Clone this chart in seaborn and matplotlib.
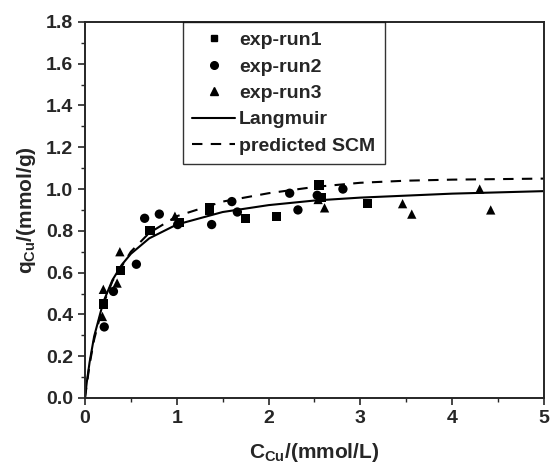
import numpy as np
import pandas as pd
import matplotlib
matplotlib.use("Agg")
import matplotlib.pyplot as plt
from matplotlib.ticker import MultipleLocator
from matplotlib.lines import Line2D
import seaborn as sns

# data
run1_c = [0.20, 0.39, 0.71, 1.03, 1.36, 1.36, 1.75, 2.09, 2.55, 2.57, 3.08]
run1_q = [0.45, 0.61, 0.80, 0.84, 0.91, 0.90, 0.86, 0.87, 1.02, 0.96, 0.93]

run2_c = [0.21, 0.31, 0.56, 0.65, 0.81, 1.01, 1.38, 1.60, 1.66, 2.23, 2.32, 2.53, 2.81]
run2_q = [0.34, 0.51, 0.64, 0.86, 0.88, 0.83, 0.83, 0.94, 0.89, 0.98, 0.90, 0.97, 1.00]

run3_c = [0.19, 0.20, 0.35, 0.38, 0.98, 2.54, 2.61, 3.46, 3.56, 4.30, 4.42]
run3_q = [0.39, 0.52, 0.55, 0.70, 0.87, 0.95, 0.91, 0.93, 0.88, 1.00, 0.90]

lang_c = [0, 0.02, 0.05, 0.1, 0.2, 0.3, 0.4, 0.5, 0.7, 1.0, 1.5, 2.0, 2.5, 3.0, 4.0, 5.0]
lang_q = [0, 0.076, 0.17, 0.295, 0.46, 0.565, 0.637, 0.69, 0.764, 0.83, 0.89, 0.923, 0.945, 0.959, 0.978, 0.99]

scm_c = [0, 0.05, 0.1, 0.2, 0.3, 0.5, 0.7, 1.0, 1.5, 2.0, 2.5, 3.0, 3.5, 4.0, 5.0]
scm_q = [0, 0.16, 0.28, 0.45, 0.56, 0.70, 0.79, 0.87, 0.94, 0.98, 1.01, 1.03, 1.04, 1.045, 1.05]

sns.set_style("ticks")
plt.rcParams['font.family'] = ['Liberation Sans', 'DejaVu Sans']
plt.rcParams['font.weight'] = 'bold'
plt.rcParams['mathtext.fontset'] = 'custom'
plt.rcParams['mathtext.rm'] = 'Liberation Sans:bold'
plt.rcParams['mathtext.bf'] = 'Liberation Sans:bold'
plt.rcParams['mathtext.it'] = 'Liberation Sans:bold'

fig = plt.figure(figsize=(5.5, 4.66), dpi=100)
ax = fig.add_axes([0.1545, 0.146, 0.8345, 0.807])

pts = pd.concat([
    pd.DataFrame({'C': run1_c, 'q': run1_q, 'run': 'exp-run1'}),
    pd.DataFrame({'C': run2_c, 'q': run2_q, 'run': 'exp-run2'}),
    pd.DataFrame({'C': run3_c, 'q': run3_q, 'run': 'exp-run3'}),
])
sns.scatterplot(data=pts, x='C', y='q', style='run', markers=['s', 'o', '^'],
                color='black', s=45, edgecolor='black', linewidth=0, ax=ax, legend=False)
sns.lineplot(x=lang_c, y=lang_q, color='black', lw=1.5, ax=ax)
sns.lineplot(x=scm_c, y=scm_q, color='black', lw=1.5, ax=ax, linestyle=(0, (5, 4)))

ax.set_xlim(0, 5)
ax.set_ylim(0, 1.8)
ax.xaxis.set_major_locator(MultipleLocator(1))
ax.xaxis.set_minor_locator(MultipleLocator(0.5))
ax.yaxis.set_major_locator(MultipleLocator(0.2))
ax.yaxis.set_minor_locator(MultipleLocator(0.1))
ax.yaxis.set_major_formatter(matplotlib.ticker.FormatStrFormatter('%.1f'))
ax.tick_params(which='major', direction='out', length=5, width=1.2, labelsize=14)
ax.tick_params(which='minor', direction='out', length=3, width=1)
for lab in ax.get_xticklabels() + ax.get_yticklabels():
    lab.set_fontweight('bold')
for sp in ax.spines.values():
    sp.set_linewidth(1.4)

ax.set_xlabel(r'C$_{\mathrm{Cu}}$/(mmol/L)', fontsize=15, fontweight='bold', labelpad=10)
ax.set_ylabel(r'q$_{\mathrm{Cu}}$/(mmol/g)', fontsize=15, fontweight='bold', labelpad=6)

handles = [
    Line2D([], [], marker='s', color='black', ls='none', ms=5),
    Line2D([], [], marker='o', color='black', ls='none', ms=5.5),
    Line2D([], [], marker='^', color='black', ls='none', ms=5.5),
    Line2D([], [], color='black', lw=1.5),
    Line2D([], [], color='black', lw=1.5, ls=(0, (5, 4))),
]
labels = ['exp-run1', 'exp-run2', 'exp-run3', 'Langmuir', 'predicted SCM']
leg = ax.legend(handles, labels, loc='upper left', bbox_to_anchor=(0.213, 1.0),
                frameon=True, fancybox=False, edgecolor='black',
                prop={'family': 'Liberation Sans', 'weight': 'bold', 'size': 14},
                handlelength=2.2, handletextpad=0.2, borderpad=0.5,
                labelspacing=0.45, borderaxespad=0)
leg.get_frame().set_linewidth(1.0)

fig.savefig('out.png', dpi=100)
